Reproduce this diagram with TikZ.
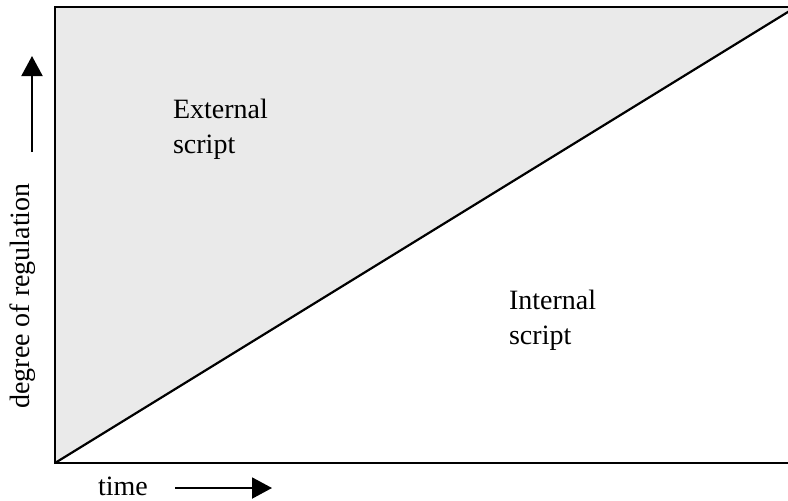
\documentclass[tikz,border=0pt]{standalone}
\usepackage{fontspec}
\setmainfont{Liberation Serif}
\usetikzlibrary{arrows.meta}
\definecolor{extgray}{HTML}{EAEAEA}

\begin{document}
\begin{tikzpicture}[x=0.5pt,y=-0.5pt,line width=1.1pt,font=\fontsize{14}{17.5}\selectfont,
  axisarrow/.style={line width=1pt,-{Triangle[length=10pt,width=10.5pt]}}]
\useasboundingbox (0,0) rectangle (788,500);
\coordinate (bl) at (55,463);
\coordinate (tl) at (55,7);
\coordinate (tr) at (796,7);
\coordinate (br) at (796,463);
\begin{scope}
  \clip (0,0) rectangle (788,500);
  \fill[extgray] (bl) -- (tl) -- (tr) -- cycle;
  \draw (tr) -- (tl) -- (bl) -- (br);
  \draw (bl) -- (tr);
\end{scope}
\node[anchor=north west,inner sep=0,align=left] (external) at (172,98) {External\\script};
\node[anchor=north west,inner sep=0,align=left] (internal) at (508,289) {Internal\\script};
% axes
\node[anchor=base,rotate=90,inner sep=0] (ylab) at (29,296) {degree of regulation};
\node[anchor=base west,inner sep=0] (xlab) at (97,495) {time};
\coordinate (upfrom) at (32,152);
\coordinate (upto) at (32,56);
\draw[axisarrow] (upfrom) -- (upto);
\coordinate (rightfrom) at (175,488);
\coordinate (rightto) at (272,488);
\draw[axisarrow] (rightfrom) -- (rightto);
\end{tikzpicture}
\end{document}
